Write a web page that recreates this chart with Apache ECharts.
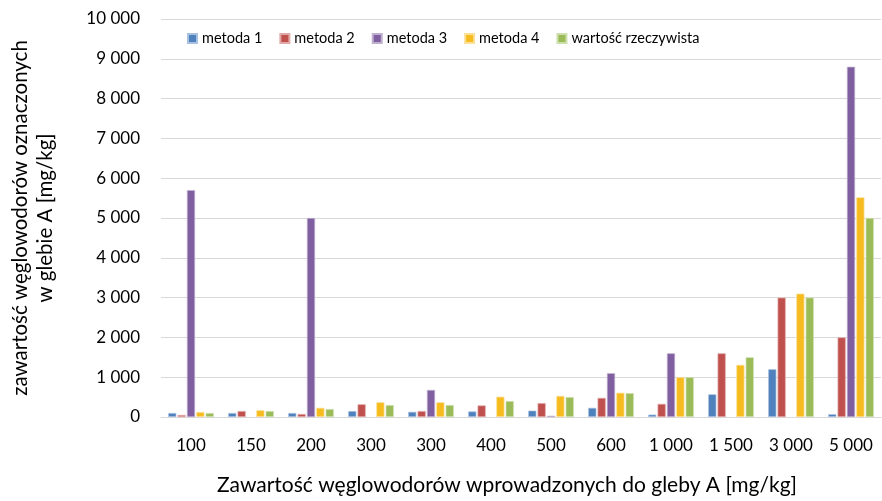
<!DOCTYPE html>
<html>
<head>
<meta charset="utf-8">
<script src="https://cdn.jsdelivr.net/npm/echarts@6/dist/echarts.min.js"></script>
<style>
  html, body { margin: 0; padding: 0; background: #fff; }
  #chart { width: 882px; height: 501px; }
</style>
</head>
<body>
<div id="chart"></div>
<script>
// kategorie (osia X)
var categories = ["100", "150", "200", "300", "300", "400", "500", "600", "1 000", "1 500", "3 000", "5 000"];
var seriesNames = ["metoda 1", "metoda 2", "metoda 3", "metoda 4", "wartość rzeczywista"];
var metoda1 = [100, 100, 100, 150, 130, 140, 160, 230, 60, 570, 1200, 70];
var metoda2 = [50, 150, 75, 320, 150, 290, 350, 480, 330, 1600, 3000, 2000];
var metoda3 = [5700, null, 5000, null, 680, null, 30, 1100, 1600, null, null, 8800];
var metoda4 = [125, 170, 230, 370, 370, 510, 530, 610, 1000, 1310, 3100, 5520];
var rzeczywista = [100, 150, 200, 300, 300, 400, 500, 600, 1000, 1500, 3000, 5000];

var colors = ["#4f81bd", "#c0504d", "#7f5f9f", "#f6bc1f", "#9bbb59"];
var borders = ["#a9c1e0", "#e0a9a7", "#c0b0d0", "#fbe09a", "#cde0ac"];

function fmt(v) {
  return String(v).replace(/\B(?=(\d{3})+(?!\d))/g, " ");
}

var myChart = echarts.init(document.getElementById("chart"));
var allData = [metoda1, metoda2, metoda3, metoda4, rzeczywista];
var series = [];
for (var i = 0; i < allData.length; i++) {
  series.push({
    name: seriesNames[i],
    type: "bar",
    data: allData[i],
    barGap: "15%",
    barCategoryGap: "24%",
    itemStyle: { color: colors[i], borderColor: borders[i], borderWidth: 0.7 }
  });
}

var option = {
  animation: false,
  textStyle: { fontFamily: "Lato" },
  color: colors,
  legend: {
    left: 182,
    top: 26,
    icon: "rect",
    itemWidth: 9,
    itemHeight: 9,
    itemGap: 17,
    textStyle: { fontSize: 14.5, color: "#000", fontFamily: "Lato" }
  },
  grid: { left: 160, right: 1, top: 19, bottom: 81 },
  xAxis: {
    type: "category",
    data: categories,
    axisLine: { lineStyle: { color: "#d9d9d9", width: 1 } },
    axisTick: { show: false },
    axisLabel: { color: "#000", fontSize: 17, margin: 20 },
    name: "Zawartość węglowodorów wprowadzonych do gleby A [mg/kg]",
    nameLocation: "middle",
    nameGap: 58,
    nameTextStyle: { color: "#000", fontSize: 21, padding: [0, 28, 0, 0] }
  },
  yAxis: {
    type: "value",
    min: 0,
    max: 10000,
    interval: 1000,
    axisLabel: { color: "#000", fontSize: 17, margin: 21, formatter: fmt },
    splitLine: { lineStyle: { color: "#d9d9d9", width: 1 } },
    name: "zawartość węglowodorów oznaczonych\nw glebie A [mg/kg]",
    nameLocation: "middle",
    nameGap: 103,
    nameRotate: 90,
    nameTextStyle: { color: "#000", fontSize: 20.5, lineHeight: 25 }
  },
  series: series
};

myChart.setOption(option);
window.addEventListener("resize", function () {
  myChart.resize();
});
</script>
</body>
</html>
